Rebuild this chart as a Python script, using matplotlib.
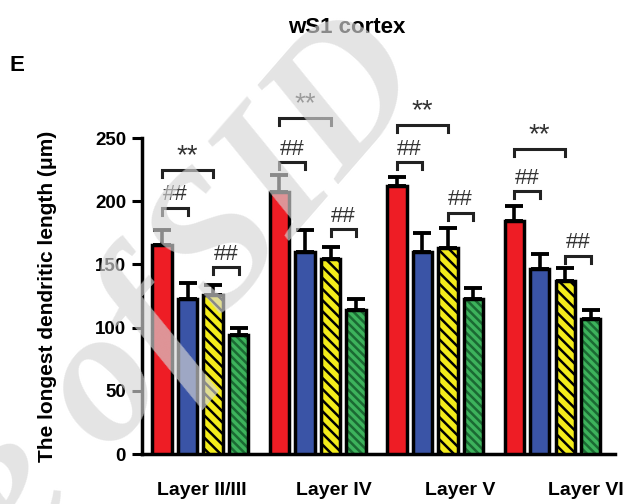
import numpy as np
import matplotlib
matplotlib.use('Agg')
import matplotlib.pyplot as plt

layers = ['Layer II/III', 'Layer IV', 'Layer V', 'Layer VI']

# mean longest dendrite length (um) and upper SEM per layer
red_vals = [165, 207, 212, 184]
red_err = [12, 14, 7, 12]
blue_vals = [123, 160, 160, 146]
blue_err = [12, 17, 15, 12]
yellow_vals = [126, 154, 163, 137]
yellow_err = [8, 10, 16, 10]
green_vals = [94, 114, 123, 107]
green_err = [6, 9, 8, 7]

# heights of the significance brackets
star_heights = [225, 266, 260, 241]     # red vs yellow, **
hash_rb_heights = [195, 231, 231, 208]  # red vs blue, ##
hash_yg_heights = [148, 178, 191, 157]  # yellow vs green, ##

plt.rcParams['font.family'] = 'Liberation Sans'
plt.rcParams['font.weight'] = 'bold'
plt.rcParams['hatch.linewidth'] = 1.8

fig = plt.figure(figsize=(6.39, 5.04), dpi=100)
ax = fig.add_axes([0.2222, 0.0992, 0.7402, 0.7222])
ax.set_facecolor('none')

centers = np.arange(len(layers)) * 4.6
offsets = [-1.5, -0.5, 0.5, 1.5]
w = 0.76

series = [
    (red_vals, red_err, '#ee1d25', None, 'k'),
    (blue_vals, blue_err, '#3a54a6', None, 'k'),
    (yellow_vals, yellow_err, '#f3ec1b', '\\\\\\', 'k'),
    (green_vals, green_err, '#3db35c', '\\\\\\\\', '#1b6a33'),
]

xs = []
for (vals, err, col, hatch, hcol), off in zip(series, offsets):
    x = centers + off
    xs.append(x)
    ax.errorbar(x, vals, yerr=[np.zeros(len(vals)), err], fmt='none',
                ecolor='k', elinewidth=2.6, capsize=6.5, capthick=2.8, zorder=2)
    if hatch is not None:
        # hatch first in its own colour, then the black outline on top
        ax.bar(x, vals, w, color=col, edgecolor=hcol, hatch=hatch,
               linewidth=0, zorder=3)
        ax.bar(x, vals, w, color='none', edgecolor='k', linewidth=2.5, zorder=4)
    else:
        ax.bar(x, vals, w, color=col, edgecolor='k', linewidth=2.5, zorder=3)


def bracket(x1, x2, y, label, fs, dy):
    ax.plot([x1, x1, x2, x2], [y - 5.5, y, y, y - 5.5], color='#222222',
            lw=2.2, solid_joinstyle='miter', clip_on=False, zorder=5)
    ax.text((x1 + x2) / 2, y + dy, label, ha='center', va='center',
            fontsize=fs, fontweight='normal', color='#333333')


for i in range(len(layers)):
    bracket(xs[0][i], xs[2][i], star_heights[i], '**', 20, 11)
    bracket(xs[0][i], xs[1][i], hash_rb_heights[i], '##', 16, 10)
    bracket(xs[2][i], xs[3][i], hash_yg_heights[i], '##', 16, 10)

ax.set_xlim(-2.29, 16.25)
ax.set_ylim(0, 288)
ax.spines['top'].set_visible(False)
ax.spines['right'].set_visible(False)
ax.spines['left'].set_bounds(0, 250)
ax.spines['left'].set_linewidth(2.5)
ax.spines['bottom'].set_linewidth(2.5)

ax.set_yticks(np.arange(0, 251, 50))
ax.tick_params(axis='y', length=7.5, width=2.2, labelsize=13.5, pad=4)
ax.set_xticks([0.05, 5.25, 10.2, 15.1], layers)
ax.tick_params(axis='x', length=0, labelsize=14, pad=20)

ax.set_ylabel('The longest dendritic length (\u03bcm)', fontsize=15,
              fontweight='bold')
ax.yaxis.set_label_coords(-0.18, 0.434)

fig.text(0.543, 0.946, 'wS1 cortex', ha='center', va='center', fontsize=16,
         fontweight='bold')
fig.text(0.027, 0.871, 'E', ha='center', va='center', fontsize=16,
         fontweight='bold')

# site watermark laid over the figure, set tight in two pieces
wm = dict(rotation=49, rotation_mode='anchor', fontsize=138,
          family='Liberation Serif', fontweight='bold', fontstyle='italic',
          color='#d6d6d6', alpha=0.65, zorder=10)
fig.text(0.342, 0.322, 'Archive of', ha='right', va='baseline', **wm)
fig.text(0.454, 0.671, 'SID', ha='center', va='center', **wm)

fig.savefig('out.png', dpi=100)
